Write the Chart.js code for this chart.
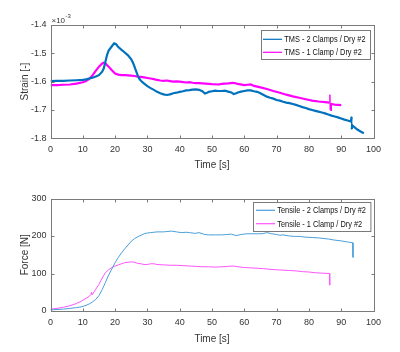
<!DOCTYPE html>
<html>
<head>
<meta charset="utf-8">
<script src="https://cdn.jsdelivr.net/npm/chart.js@4/dist/chart.umd.min.js"></script>
<style>
  body { margin: 0; background: #fff; }
  .panel { position: absolute; left: 0; width: 400px; height: 176px; }
</style>
</head>
<body>
<div class="panel" style="top:0"><canvas id="strainChart" width="400" height="176"></canvas></div>
<div class="panel" style="top:176px"><canvas id="forceChart" width="400" height="176"></canvas></div>
<script>
// strain values are in units of 1e-3 (the axis shows the x10^-3 multiplier)
const tms2Time = [0, 2, 4, 6, 8, 10, 11, 12, 13, 14, 15, 16, 16.5, 17, 17.5, 18, 19, 19.7, 20.3, 21, 22, 23, 24, 25, 25.5, 26, 26.5, 27, 27.5, 28, 29, 30, 31, 32, 33, 34, 35, 36, 37, 38, 39, 40, 41, 42, 43, 44, 45, 46, 47, 47.8, 48.5, 49, 50, 51, 52, 53, 54, 55, 56, 56.7, 57.5, 58, 59, 60, 61, 62, 63, 64, 65, 66, 67, 68, 69, 70, 71, 72, 73, 74, 75, 76, 77, 78, 79, 80, 81, 82, 83, 84, 85, 86, 87, 88, 89, 90, 91, 92, 93, 93.2, 93.25, 93.4, 94, 95, 96, 97];
const tms2Strain = [-1.598, -1.597, -1.597, -1.596, -1.595, -1.594, -1.592, -1.589, -1.586, -1.582, -1.577, -1.565, -1.553, -1.53, -1.506, -1.49, -1.475, -1.465, -1.468, -1.478, -1.488, -1.497, -1.507, -1.521, -1.532, -1.547, -1.563, -1.578, -1.59, -1.597, -1.607, -1.616, -1.623, -1.629, -1.636, -1.641, -1.645, -1.647, -1.645, -1.641, -1.639, -1.636, -1.634, -1.631, -1.63, -1.628, -1.627, -1.629, -1.634, -1.642, -1.639, -1.636, -1.634, -1.632, -1.633, -1.633, -1.632, -1.635, -1.638, -1.644, -1.641, -1.638, -1.635, -1.633, -1.631, -1.631, -1.634, -1.636, -1.641, -1.647, -1.653, -1.657, -1.66, -1.665, -1.667, -1.671, -1.674, -1.676, -1.679, -1.682, -1.686, -1.69, -1.693, -1.697, -1.7, -1.703, -1.706, -1.709, -1.712, -1.716, -1.72, -1.723, -1.726, -1.73, -1.734, -1.737, -1.741, -1.724, -1.768, -1.754, -1.76, -1.769, -1.776, -1.782];

const tms1Time = [0, 2, 4, 6, 8, 10, 11, 12, 13, 14, 15, 16, 16.5, 17, 18, 19, 20, 21, 22, 23, 24, 25, 26, 27, 28, 29, 30, 31, 32, 33, 34, 35, 36, 37, 38, 39, 40, 42, 43, 44, 45, 46, 48, 50, 52, 53, 55, 56.5, 58, 60, 61, 62, 63, 65, 67, 69, 71, 73, 75, 77, 79, 81, 83, 85, 86.4, 86.5, 86.6, 86.8, 88, 90];
const tms1Strain = [-1.612, -1.612, -1.611, -1.61, -1.607, -1.602, -1.598, -1.59, -1.578, -1.562, -1.547, -1.536, -1.533, -1.536, -1.547, -1.56, -1.571, -1.575, -1.577, -1.577, -1.578, -1.579, -1.58, -1.582, -1.583, -1.585, -1.587, -1.589, -1.591, -1.594, -1.596, -1.597, -1.596, -1.598, -1.6, -1.599, -1.6, -1.603, -1.602, -1.604, -1.605, -1.605, -1.607, -1.609, -1.61, -1.608, -1.606, -1.604, -1.608, -1.612, -1.611, -1.61, -1.615, -1.62, -1.626, -1.633, -1.639, -1.646, -1.652, -1.657, -1.662, -1.667, -1.67, -1.672, -1.674, -1.646, -1.7, -1.679, -1.681, -1.683];

const tens2Time = [0, 2, 4, 6, 8, 9.5, 11, 12, 13, 14, 15, 16, 17, 18, 19, 20, 21, 22, 23, 24, 25, 26, 27, 28, 29, 30, 31, 32, 33, 35, 36, 37.5, 39, 40.5, 42, 43, 44.8, 46, 47.8, 49, 51, 53, 54.6, 56, 57.5, 59, 60.8, 62, 64, 65.5, 67, 68.5, 70, 71, 72, 74, 75.5, 77, 79, 81, 83, 85, 86, 88, 90, 92, 93.6, 93.65];
const tens2Force = [3, 4, 5, 7, 9, 11, 15, 19, 24, 31, 41, 57, 76, 96, 112, 129, 143, 155, 166, 176, 186, 193, 198, 202, 206, 208, 209, 210, 211, 211, 212, 213, 211, 209, 210, 209, 207, 209, 204, 203, 203, 203, 204, 205, 201, 204, 206, 206, 206, 206, 209, 206, 204, 202, 203, 200, 199, 199, 197, 196, 195, 193, 192, 189, 187, 184, 182, 143];

const tens1Time = [0, 2, 4, 6, 8, 9.5, 11, 12, 12.5, 12.7, 12.9, 14, 15, 16, 17, 18, 19, 20, 21, 22, 23, 24, 25, 26, 27, 28, 29, 30, 31, 32, 33, 35, 37, 39, 41, 43, 45, 47, 49, 51, 53, 55, 56.5, 58, 60, 62, 64, 66, 68, 70, 72, 74, 76, 78, 80, 82, 84, 86.4, 86.45];
const tens1Force = [5, 7, 10, 14, 20, 26, 34, 39, 44, 50, 43, 58, 71, 88, 102, 110, 116, 120, 123, 126, 129, 130, 131, 130, 127, 126, 124, 124, 126, 126, 124, 123, 122, 122, 121, 120, 119, 118, 118, 117, 118, 119, 120, 118, 116, 115, 114, 113, 111, 110, 109, 108, 107, 105, 104, 102, 101, 100, 69];

const timeTicks = [0, 10, 20, 30, 40, 50, 60, 70, 80, 90, 100];
const strainTicks = [-1.8, -1.7, -1.6, -1.5, -1.4];
const forceTicks = [0, 100, 200, 300];

const FONT = "'Liberation Sans', Arial, sans-serif";
const AXIS = '#7a7a7a';
const TEXT = '#333';

function points(xs, ys) {
  return xs.map((x, i) => ({ x: x, y: ys[i] }));
}

// the short spikes in the strain records are drawn with a thin pen
const thinSpikes = { borderWidth: c => (c.p1.parsed.x - c.p0.parsed.x < 0.15 ? 1 : undefined) };

// MATLAB style box with inward ticks on all four sides
const boxPlugin = {
  id: 'box',
  afterDraw(chart) {
    const { ctx, chartArea: a, scales } = chart;
    const L = Math.round(a.left) + 0.5, R = Math.round(a.right) + 0.5;
    const T = Math.round(a.top) + 0.5, B = Math.round(a.bottom) + 0.5;
    ctx.save();
    ctx.strokeStyle = AXIS;
    ctx.lineWidth = 1;
    ctx.beginPath();
    scales.x.ticks.forEach(t => {
      const px = Math.round(scales.x.getPixelForValue(t.value)) + 0.5;
      ctx.moveTo(px, B); ctx.lineTo(px, B - 3);
      ctx.moveTo(px, T); ctx.lineTo(px, T + 3);
    });
    scales.y.ticks.forEach(t => {
      const py = Math.round(scales.y.getPixelForValue(t.value)) + 0.5;
      ctx.moveTo(L, py); ctx.lineTo(L + 3, py);
      ctx.moveTo(R, py); ctx.lineTo(R - 3, py);
    });
    ctx.stroke();
    ctx.strokeRect(L, T, R - L, B - T);
    ctx.restore();
  }
};

// legend box inside the axes, text squeezed to match the narrow original font
const boxLegend = {
  id: 'boxLegend',
  afterDraw(chart, args, o) {
    const { ctx } = chart;
    ctx.save();
    ctx.fillStyle = '#fff';
    ctx.fillRect(o.x, o.y, o.w, o.h);
    ctx.strokeStyle = AXIS;
    ctx.lineWidth = 1;
    ctx.strokeRect(Math.round(o.x) + 0.5, Math.round(o.y) + 0.5, o.w, o.h);
    ctx.textBaseline = 'middle';
    chart.data.datasets.forEach((ds, i) => {
      const yy = o.y + o.row0 + i * o.rowGap;
      ctx.strokeStyle = ds.borderColor;
      ctx.lineWidth = 1.2;
      ctx.beginPath();
      ctx.moveTo(o.x + o.line0, yy);
      ctx.lineTo(o.x + o.line1, yy);
      ctx.stroke();
      ctx.save();
      ctx.translate(o.x + o.text0, yy + 0.5);
      ctx.scale(0.82, 1);
      ctx.font = '9px ' + FONT;
      ctx.fillStyle = '#111';
      ctx.fillText(ds.label, 0, 0);
      ctx.restore();
    });
    ctx.restore();
  }
};

const exponentLabel = {
  id: 'exponentLabel',
  afterDraw(chart) {
    const { ctx, chartArea: a } = chart;
    ctx.save();
    ctx.fillStyle = TEXT;
    ctx.textBaseline = 'alphabetic';
    ctx.font = '8px ' + FONT;
    ctx.fillText('\u00d710', a.left + 1, a.top - 2);
    ctx.font = '6px ' + FONT;
    ctx.fillText('-3', a.left + 15, a.top - 7);
    ctx.restore();
  }
};

function xAxis(height, titleBottom) {
  return {
    type: 'linear', min: 0, max: 100,
    afterBuildTicks: s => { s.ticks = timeTicks.map(v => ({ value: v })); },
    ticks: { color: TEXT, font: { size: 9 }, padding: 6, maxRotation: 0, autoSkip: false },
    grid: { display: false, drawTicks: false },
    border: { display: false },
    title: { display: true, text: 'Time [s]', color: TEXT, font: { size: 10 }, padding: { top: 0, bottom: titleBottom } },
    afterFit: s => { s.height = height; }
  };
}

function yAxis(min, max, tickList, label, fmt) {
  return {
    type: 'linear', min: min, max: max,
    afterBuildTicks: s => { s.ticks = tickList.map(v => ({ value: v })); },
    ticks: { color: TEXT, font: { size: 9 }, padding: 4, callback: fmt },
    grid: { display: false, drawTicks: false },
    border: { display: false },
    title: { display: true, text: label, color: TEXT, font: { size: 10 }, padding: { top: 19, bottom: 0 } },
    afterFit: s => { s.width = 50.5; }
  };
}

Chart.defaults.font.family = FONT;
Chart.defaults.animation = false;

new Chart(document.getElementById('strainChart'), {
  type: 'line',
  data: {
    datasets: [
      { label: 'TMS - 2 Clamps / Dry #2', data: points(tms2Time, tms2Strain), borderColor: '#0072BD', borderWidth: 2.2, segment: thinSpikes },
      { label: 'TMS - 1 Clamp / Dry #2', data: points(tms1Time, tms1Strain), borderColor: '#FF00FF', borderWidth: 2.2, segment: thinSpikes }
    ]
  },
  options: {
    responsive: false,
    layout: { padding: { left: 0, right: 26.5, top: 25, bottom: 0 } },
    elements: { point: { radius: 0 }, line: { tension: 0 } },
    scales: {
      x: xAxis(37.7, 5),
      y: yAxis(-1.8, -1.4, strainTicks, 'Strain [-]', v => v.toFixed(1))
    },
    plugins: {
      legend: { display: false },
      tooltip: { enabled: false },
      boxLegend: { x: 261, y: 30, w: 109, h: 29, row0: 9.3, rowGap: 13, line0: 2, line1: 21, text0: 23.3 }
    }
  },
  plugins: [boxPlugin, boxLegend, exponentLabel]
});

new Chart(document.getElementById('forceChart'), {
  type: 'line',
  data: {
    datasets: [
      { label: 'Tensile - 2 Clamps / Dry #2', data: points(tens2Time, tens2Force), borderColor: '#4a9fd8', borderWidth: 1 },
      { label: 'Tensile - 1 Clamp / Dry #2', data: points(tens1Time, tens1Force), borderColor: '#ff55ff', borderWidth: 1 }
    ]
  },
  options: {
    responsive: false,
    layout: { padding: { left: 0, right: 26.5, top: 22.5, bottom: 0 } },
    elements: { point: { radius: 0 }, line: { tension: 0 } },
    scales: {
      x: xAxis(41, 7),
      y: yAxis(0, 300, forceTicks, 'Force [N]', v => String(v))
    },
    plugins: {
      legend: { display: false },
      tooltip: { enabled: false },
      boxLegend: { x: 253.3, y: 26, w: 117.4, h: 29, row0: 8.3, rowGap: 13.4, line0: 2.7, line1: 21.7, text0: 24 }
    }
  },
  plugins: [boxPlugin, boxLegend]
});
</script>
</body>
</html>
